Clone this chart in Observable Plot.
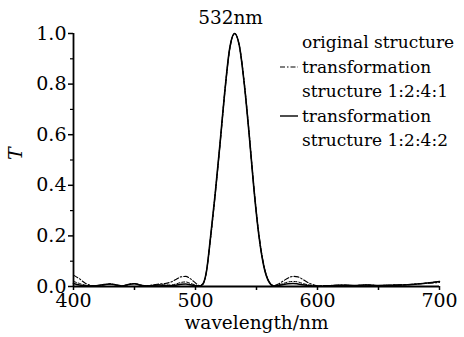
<!DOCTYPE html>
<html>
<head>
<meta charset="utf-8">
<script src="https://cdn.jsdelivr.net/npm/d3@7"></script>
<script src="https://cdn.jsdelivr.net/npm/@observablehq/plot@0.6"></script>
</head>
<body style="margin:0;padding:0;background:#fff">
<div id="wrap" style="position:relative;width:464px;height:337px;"><div id="legend" style="position:absolute;left:280px;top:30px;font-size:17px;line-height:24.5px;color:#000;"></div></div>
<script>
// Wavelength samples (nm)
const wavelength = [400,405,410,415,420,425,430,435,440,445,450,455,460,465,470,475,480,484,488,492,496,500,503,506,509,512,516,520,524,528,532,536,540,544,548,552,556,560,564,568,572,576,580,584,588,592,596,600,610,620,630,640,650,660,670,680,690,700];
// Transmittance of transformation structure 1:2:4:2 (solid)
const tSolid = [0.012,0.006,0.003,0.002,0.004,0.008,0.010,0.006,0.002,0.008,0.011,0.005,0.002,0.004,0.006,0.004,0.003,0.005,0.009,0.010,0.007,0.003,0.001,0.010,0.060,0.180,0.360,0.560,0.770,0.940,1.000,0.950,0.800,0.600,0.380,0.200,0.080,0.020,0.002,0.004,0.008,0.011,0.012,0.010,0.007,0.004,0.002,0.001,0.003,0.005,0.004,0.006,0.004,0.005,0.006,0.009,0.014,0.020];
// Transmittance of transformation structure 1:2:4:1 (dash-dot)
const tDashDot = [0.045,0.030,0.012,0.004,0.003,0.006,0.010,0.006,0.003,0.008,0.012,0.006,0.003,0.006,0.010,0.012,0.018,0.028,0.038,0.040,0.030,0.014,0.004,0.008,0.060,0.175,0.355,0.555,0.765,0.935,1.000,0.950,0.805,0.605,0.385,0.205,0.085,0.022,0.004,0.010,0.022,0.034,0.040,0.038,0.028,0.016,0.008,0.003,0.004,0.006,0.003,0.006,0.004,0.005,0.007,0.010,0.013,0.016];
// Transmittance of original structure
const tOriginal = [0.020,0.012,0.005,0.003,0.004,0.007,0.010,0.006,0.002,0.008,0.011,0.005,0.002,0.004,0.007,0.006,0.006,0.010,0.016,0.018,0.012,0.006,0.002,0.010,0.060,0.180,0.360,0.560,0.770,0.940,1.000,0.950,0.800,0.600,0.380,0.200,0.080,0.020,0.002,0.006,0.012,0.018,0.020,0.018,0.012,0.007,0.004,0.002,0.003,0.005,0.004,0.006,0.004,0.005,0.006,0.009,0.014,0.020];

const seriesNames = ["original structure", "transformation structure 1:2:4:1", "transformation structure 1:2:4:2"];
const xTicks = [400,450,500,550,600,650,700];
const yTicks = [0,0.2,0.4,0.6,0.8,1.0];
const yMinor = [0.1,0.3,0.5,0.7,0.9];
const peakLabel = "532nm";
const peakAt = 532;

const FONT = "'DejaVu Serif', 'Liberation Serif', serif";
document.getElementById("wrap").style.fontFamily = FONT;
document.getElementById("legend").style.fontFamily = FONT;

const mk = (vals) => wavelength.map((w, i) => ({w, t: vals[i]}));
const dOrig = mk(tOriginal), dDD = mk(tDashDot), dSolid = mk(tSolid);

const chart = Plot.plot({
  width: 464,
  height: 337,
  marginLeft: 73,
  marginRight: 25,
  marginTop: 33,
  marginBottom: 51,
  style: "font-family:" + FONT + ";font-size:19px;color:#000;background:transparent;overflow:visible",
  x: {domain: [400, 700]},
  y: {domain: [0, 1]},
  marks: [
    Plot.axisX({ticks: xTicks, tickFormat: d => d % 100 === 0 ? String(d) : "", tickSize: 4, tickPadding: 3, strokeWidth: 1.5,
                label: null, fontSize: 19}),
    Plot.text(["wavelength/nm"], {frameAnchor: "bottom", dy: 42, fontSize: 18.5, fill: "#000", text: d => d}),
    Plot.axisY({ticks: yTicks, tickFormat: d3.format(".1f"), tickSize: 5, tickPadding: 2, strokeWidth: 1.5, label: null, fontSize: 19}),
    Plot.axisY({ticks: yMinor, tickFormat: () => "", tickSize: 3, strokeWidth: 1.2, label: null}),
    Plot.ruleX([400], {stroke: "#000", strokeWidth: 1.8}),
    Plot.ruleY([0], {stroke: "#000", strokeWidth: 1.8}),
    Plot.line(dOrig, {x: "w", y: "t", stroke: "#000", strokeWidth: 1, strokeDasharray: "3,2", curve: "monotone-x"}),
    Plot.line(dDD, {x: "w", y: "t", stroke: "#000", strokeWidth: 1.1, strokeDasharray: "5,2,1.5,2", curve: "monotone-x"}),
    Plot.line(dSolid, {x: "w", y: "t", stroke: "#000", strokeWidth: 1.6, curve: "monotone-x"}),
    Plot.text([{w: peakAt, t: 1}], {x: "w", y: "t", text: () => peakLabel, dy: -15, dx: -4, fontSize: 18.5, fill: "#000"}),
    Plot.text(["T"], {frameAnchor: "left", dx: -58, rotate: -90, fontStyle: "italic", fontSize: 19, fill: "#000", text: d => d})
  ]
});
d3.select(chart).selectAll("text").style("font-family", FONT);
document.getElementById("wrap").prepend(chart);

// Legend (HTML overlay)
const legend = document.getElementById("legend");
const rows = [
  {text: "original structure", dash: null},
  {text: "transformation", dash: "5,2,1.5,2", w: 1.1},
  {text: "structure 1:2:4:1", dash: null},
  {text: "transformation", dash: "none", w: 1.4},
  {text: "structure 1:2:4:2", dash: null}
];
rows.forEach(r => {
  const row = document.createElement("div");
  row.style.cssText = "display:flex;align-items:center;height:24.5px;white-space:nowrap";
  row.style.fontFamily = FONT;
  const s = document.createElementNS("http://www.w3.org/2000/svg", "svg");
  s.setAttribute("width", 22); s.setAttribute("height", 10);
  s.style.flex = "none";
  if (r.dash) {
    const l = document.createElementNS("http://www.w3.org/2000/svg", "line");
    l.setAttribute("x1", 0); l.setAttribute("x2", 18); l.setAttribute("y1", 5); l.setAttribute("y2", 5);
    l.setAttribute("stroke", "#000"); l.setAttribute("stroke-width", r.w);
    if (r.dash !== "none") l.setAttribute("stroke-dasharray", r.dash);
    s.appendChild(l);
  }
  row.appendChild(s);
  const t = document.createElement("span");
  t.textContent = r.text;
  row.appendChild(t);
  legend.appendChild(row);
});
</script>
</body>
</html>
